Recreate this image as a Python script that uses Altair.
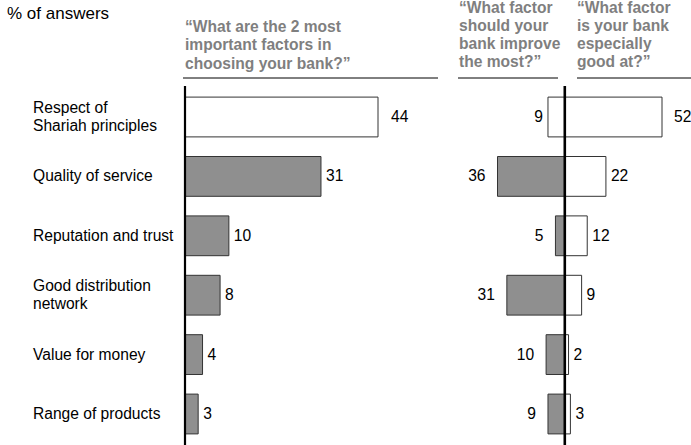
import altair as alt
import pandas as pd

categories = [
    "Respect of\nShariah principles",
    "Quality of service",
    "Reputation and trust",
    "Good distribution\nnetwork",
    "Value for money",
    "Range of products",
]
choose_vals = [44, 31, 10, 8, 4, 3]
improve_vals = [9, 36, 5, 31, 10, 9]
good_vals = [52, 22, 12, 9, 2, 3]

title_text = "% of answers"
header_choose = ["\u201cWhat are the 2 most", "important factors in", "choosing your bank?\u201d"]
header_improve = ["\u201cWhat factor", "should your", "bank improve", "the most?\u201d"]
header_good = ["\u201cWhat factor", "is your bank", "especially", "good at?\u201d"]

df = pd.DataFrame({
    "cat": categories,
    "choose": choose_vals,
    "improve": improve_vals,
    "improve_neg": [-v for v in improve_vals],
    "good": good_vals,
    "idx": list(range(len(categories))),
})

FONT = "Liberation Sans"
GRAY = "#8f8f8f"
HEAD = "#7f7f7f"
FS = 15.6

left_scale = alt.Scale(domain=[0, 44], range=[185, 378], nice=False, zero=True)
right_scale = alt.Scale(domain=[-36, 52], range=[497.5, 662], nice=False, zero=True)
y_enc = alt.Y("cat:N", sort=categories,
              scale=alt.Scale(range=[87.3, 443.7], paddingInner=0.33, paddingOuter=0.165),
              axis=None)

base = alt.Chart(df)
one = alt.Chart(pd.DataFrame({"z": [0]}))

first = alt.datum.idx == 0
rest = alt.datum.idx > 0
fill_enc = alt.condition(first, alt.value("white"), alt.value(GRAY))

# Left panel bars
left_bars = base.mark_bar(stroke="#333333", strokeWidth=1).encode(
    x=alt.X("choose:Q", scale=left_scale, axis=None),
    y=y_enc,
    fill=fill_enc,
)
left_lab0 = base.transform_filter(first).mark_text(
    align="left", baseline="middle", dx=13, font=FONT, fontSize=FS, color="black"
).encode(x=alt.X("choose:Q", scale=left_scale, axis=None), y=y_enc, text="choose:Q")
left_lab = base.transform_filter(rest).mark_text(
    align="left", baseline="middle", dx=5, font=FONT, fontSize=FS, color="black"
).encode(x=alt.X("choose:Q", scale=left_scale, axis=None), y=y_enc, text="choose:Q")

# Right panel bars
imp_bars = base.mark_bar(stroke="#333333", strokeWidth=1).encode(
    x=alt.X("improve_neg:Q", scale=right_scale, axis=None),
    y=y_enc,
    fill=fill_enc,
)
good_bars = base.mark_bar(stroke="#333333", strokeWidth=1, fill="white").encode(
    x=alt.X("good:Q", scale=right_scale, axis=None),
    y=y_enc,
)
imp_lab0 = base.transform_filter(first).mark_text(
    align="right", baseline="middle", dx=-5, font=FONT, fontSize=FS, color="black"
).encode(x=alt.X("improve_neg:Q", scale=right_scale, axis=None), y=y_enc, text="improve:Q")
imp_lab = base.transform_filter(rest).mark_text(
    align="right", baseline="middle", dx=-12, font=FONT, fontSize=FS, color="black"
).encode(x=alt.X("improve_neg:Q", scale=right_scale, axis=None), y=y_enc, text="improve:Q")
good_lab0 = base.transform_filter(first).mark_text(
    align="left", baseline="middle", dx=12, font=FONT, fontSize=FS, color="black"
).encode(x=alt.X("good:Q", scale=right_scale, axis=None), y=y_enc, text="good:Q")
good_lab = base.transform_filter(rest).mark_text(
    align="left", baseline="middle", dx=5, font=FONT, fontSize=FS, color="black"
).encode(x=alt.X("good:Q", scale=right_scale, axis=None), y=y_enc, text="good:Q")

# Category labels (single-line and two-line)
multi = "indexof(datum.cat, '\\n') >= 0"
single = "indexof(datum.cat, '\\n') < 0"
cat_lab1 = base.transform_filter(single).mark_text(
    align="left", baseline="middle", font=FONT, fontSize=FS, color="black"
).encode(x=alt.value(33), y=y_enc, text="cat:N")
cat_lab2 = base.transform_filter(multi).mark_text(
    align="left", baseline="middle", lineBreak="\n", lineHeight=18, dy=-9,
    font=FONT, fontSize=FS, color="black"
).encode(x=alt.value(33), y=y_enc, text="cat:N")

# Vertical zero axes
left_axis = one.mark_rule(color="black", strokeWidth=2.2).encode(
    x=alt.X(datum=0, type="quantitative", scale=left_scale, axis=None),
    y=alt.value(86), y2=alt.value(445),
)
right_axis = one.mark_rule(color="black", strokeWidth=2.6).encode(
    x=alt.X(datum=0, type="quantitative", scale=right_scale, axis=None),
    y=alt.value(86), y2=alt.value(445),
)

# Titles / headers
title = one.mark_text(align="left", baseline="alphabetic", font=FONT, fontSize=17,
                      color="black", text=title_text).encode(x=alt.value(7), y=alt.value(19))
h1 = one.mark_text(align="left", baseline="alphabetic", font=FONT, fontSize=FS, fontWeight="bold",
                   color=HEAD, lineHeight=18.3, text=header_choose).encode(x=alt.value(185), y=alt.value(32))
h2 = one.mark_text(align="left", baseline="alphabetic", font=FONT, fontSize=FS, fontWeight="bold",
                   color=HEAD, lineHeight=18, text=header_improve).encode(x=alt.value(459), y=alt.value(13))
h3 = one.mark_text(align="left", baseline="alphabetic", font=FONT, fontSize=FS, fontWeight="bold",
                   color=HEAD, lineHeight=18, text=header_good).encode(x=alt.value(577), y=alt.value(13))
u1 = one.mark_rule(color="black", strokeWidth=1).encode(x=alt.value(183), x2=alt.value(438), y=alt.value(78))
u2 = one.mark_rule(color="black", strokeWidth=1).encode(x=alt.value(458), x2=alt.value(558), y=alt.value(78))
u3 = one.mark_rule(color="black", strokeWidth=1).encode(x=alt.value(577), x2=alt.value(691), y=alt.value(78))

chart = alt.layer(
    left_bars, left_lab0, left_lab,
    good_bars, imp_bars, imp_lab0, imp_lab, good_lab0, good_lab,
    cat_lab1, cat_lab2, left_axis, right_axis,
    title, h1, h2, h3, u1, u2, u3,
).resolve_scale(x="independent").properties(
    width=691, height=445, autosize=alt.AutoSizeParams(type="none"), padding=0,
    background="white",
).configure_view(stroke=None)

chart.save("out.html", embed_options={"renderer": "svg", "actions": False})
